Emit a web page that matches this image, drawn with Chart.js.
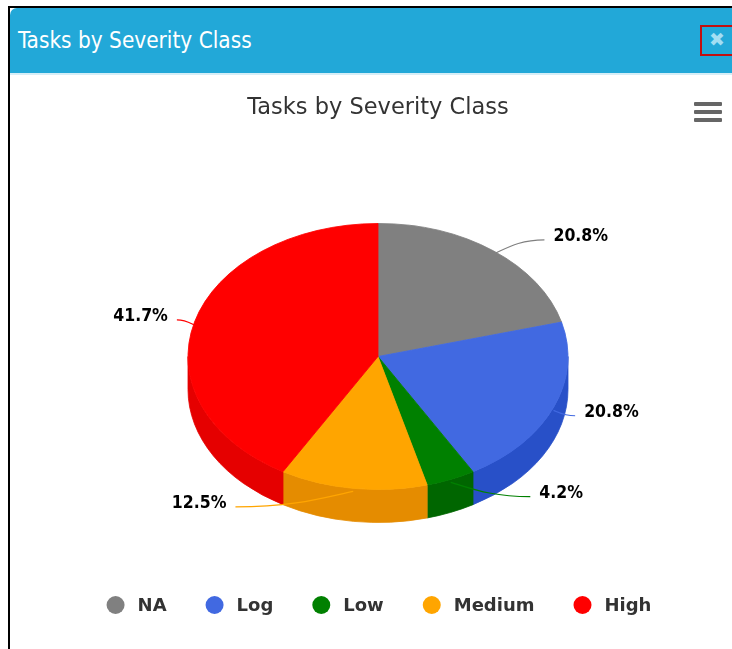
<!DOCTYPE html>
<html>
<head>
<meta charset="utf-8">
<script src="https://cdn.jsdelivr.net/npm/chart.js@4/dist/chart.umd.min.js"></script>
<style>
  html, body { margin: 0; padding: 0; background: #fff; overflow: hidden; width: 732px; height: 649px; }
  #frameTop { position: absolute; left: 8px; top: 6px; width: 740px; height: 2px; background: #000; }
  #frameLeft { position: absolute; left: 8px; top: 6px; width: 2px; height: 660px; background: #000; }
  #header { position: absolute; left: 10px; top: 8px; width: 740px; height: 65px; background: #22a8d8;
            border-top-left-radius: 7px; border-bottom: 2px solid #d6eef7; }
  #hdrTitle { position: absolute; left: 8px; top: 0; height: 65px; line-height: 65px; color: #fff;
              font-family: "DejaVu Sans Condensed", "DejaVu Sans", sans-serif; font-size: 22.4px; white-space: nowrap; }
  #closeBtn { position: absolute; left: 690px; top: 17px; width: 40px; height: 27px; border: 2.5px solid #c40f0f;
              color: #a3def3; font-family: "DejaVu Sans", sans-serif; font-size: 19px; font-weight: bold; }
  #closeBtn span { position: absolute; left: 7px; top: 1px; }
  #menu { position: absolute; left: 694px; top: 102px; width: 28px; height: 22px; }
  #menu div { position: absolute; left: 0; width: 28px; height: 3.5px; background: #666; border-radius: 1px; }
  #wrap { position: absolute; left: 11px; top: 75px; }
</style>
</head>
<body>
<div id="frameTop"></div>
<div id="frameLeft"></div>
<div id="header"><div id="hdrTitle">Tasks by Severity Class</div><div id="closeBtn"><span>✖</span></div></div>
<div id="wrap"><canvas id="c" width="734" height="574"></canvas></div>
<div id="menu"><div style="top:0px"></div><div style="top:8px"></div><div style="top:16px"></div></div>
<script>
// ---- data ----
const categories = ['NA', 'Log', 'Low', 'Medium', 'High'];
const taskCounts = [5, 5, 1, 3, 10];
const sliceColors = ['#808080', '#4169E1', '#008000', '#FFA500', '#FF0000'];
const sideColors  = ['#666666', '#2850C8', '#006600', '#E58C00', '#E50000'];
const chartTitle = 'Tasks by Severity Class';

// ---- 3D look parameters ----
const TILT = 0.70;     // vertical squash of the pie top
const DEPTH = 33;      // thickness of the pie side in px
const FONT = '"DejaVu Sans Condensed", "DejaVu Sans", sans-serif';
const FONT_WIDE = '"DejaVu Sans", sans-serif';

function frontRanges(s, e) {
  const out = [];
  for (let k = -2; k <= 2; k++) {
    const lo = Math.max(s, k * 2 * Math.PI), hi = Math.min(e, k * 2 * Math.PI + Math.PI);
    if (hi > lo) out.push([lo, hi]);
  }
  return out;
}

const pie3d = {
  id: 'pie3d',
  beforeDatasetsDraw(chart) {
    const ctx = chart.ctx;
    const arcs = chart.getDatasetMeta(0).data;
    ctx.save();
    arcs.forEach((a, i) => {
      const r = a.outerRadius, ry = r * TILT, cx = a.x, cy = a.y;
      frontRanges(a.startAngle, a.endAngle).forEach(([a1, a2]) => {
        ctx.beginPath();
        ctx.moveTo(cx + r * Math.cos(a1), cy + ry * Math.sin(a1));
        ctx.ellipse(cx, cy, r, ry, 0, a1, a2, false);
        ctx.lineTo(cx + r * Math.cos(a2), cy + DEPTH + ry * Math.sin(a2));
        ctx.ellipse(cx, cy + DEPTH, r, ry, 0, a2, a1, true);
        ctx.closePath();
        ctx.fillStyle = sideColors[i];
        ctx.fill();
        ctx.strokeStyle = sideColors[i];
        ctx.lineWidth = 0.8;
        ctx.stroke();
      });
    });
    ctx.restore();
    const a0 = arcs[0];
    ctx.save();
    ctx.translate(a0.x, a0.y);
    ctx.scale(1, TILT);
    ctx.translate(-a0.x, -a0.y);
  },
  afterDatasetsDraw(chart) {
    const ctx = chart.ctx;
    ctx.restore();
    const arcs = chart.getDatasetMeta(0).data;
    const total = taskCounts.reduce((p, v) => p + v, 0);
    // data labels with soft connectors
    arcs.forEach((a, i) => {
      const r = a.outerRadius, ry = r * TILT, cx = a.x, cy = a.y;
      const mid = (a.startAngle + a.endAngle) / 2;
      const dx = Math.cos(mid), dy = Math.sin(mid);
      const left = dx < 0;
      const sx = cx + r * dx, sy = cy + ry * dy + 3;
      const ly = cy + dy * (r + 30) * 0.68 - 1;
      const R2 = r + 15;
      const off = Math.sqrt(Math.max(R2 * R2 - (ly - cy) * (ly - cy), 0));
      const ex = cx + (left ? -off : off), ey = ly + 3;
      ctx.save();
      ctx.beginPath();
      ctx.moveTo(ex, ey);
      ctx.bezierCurveTo(ex + (sx - ex) * 0.5, ey, sx + (ex - sx) * 0.25, sy + (ey - sy) * 0.4, sx, sy);
      ctx.strokeStyle = sliceColors[i];
      ctx.lineWidth = 1.2;
      ctx.stroke();
      const txt = (taskCounts[i] / total * 100).toFixed(1) + '%';
      ctx.font = 'bold 17.5px ' + FONT;
      ctx.textBaseline = 'middle';
      ctx.textAlign = left ? 'right' : 'left';
      const tx = ex + (left ? -9 : 9);
      ctx.lineJoin = 'round';
      ctx.strokeStyle = 'rgba(255,255,255,0.9)';
      ctx.lineWidth = 2;
      ctx.strokeText(txt, tx, ly);
      ctx.fillStyle = '#000000';
      ctx.fillText(txt, tx, ly);
      ctx.restore();
    });
    // legend
    ctx.save();
    ctx.font = 'bold 18px ' + FONT_WIDE;
    ctx.textBaseline = 'middle';
    ctx.textAlign = 'left';
    const widths = categories.map(c => ctx.measureText(c).width);
    const itemW = widths.map(w => 31 + w);
    const gap = 39;
    const totalW = itemW.reduce((p, v) => p + v, 0) + gap * (categories.length - 1);
    let x = (chart.width) / 2 - totalW / 2 + 1;
    const y = 530;
    categories.forEach((c, i) => {
      ctx.beginPath();
      ctx.arc(x + 9, y, 9, 0, Math.PI * 2);
      ctx.fillStyle = sliceColors[i];
      ctx.fill();
      ctx.fillStyle = '#333333';
      ctx.fillText(c, x + 31, y + 1);
      x += itemW[i] + gap;
    });
    ctx.restore();
  }
};

new Chart(document.getElementById('c'), {
  type: 'pie',
  data: {
    labels: categories,
    datasets: [{
      data: taskCounts,
      backgroundColor: sliceColors,
      borderColor: sliceColors,
      borderWidth: 1,
      radius: 190,
      clip: false
    }]
  },
  options: {
    responsive: false,
    animation: false,
    events: [],
    layout: { padding: { top: 0, bottom: 68, left: 0, right: 0 } },
    plugins: {
      legend: { display: false },
      tooltip: { enabled: false },
      title: {
        display: true,
        text: chartTitle,
        color: '#333333',
        font: { family: FONT_WIDE, size: 22.5, weight: 'normal', lineHeight: 1.2 },
        padding: { top: 20, bottom: 10 }
      }
    }
  },
  plugins: [pie3d]
});
</script>
</body>
</html>
